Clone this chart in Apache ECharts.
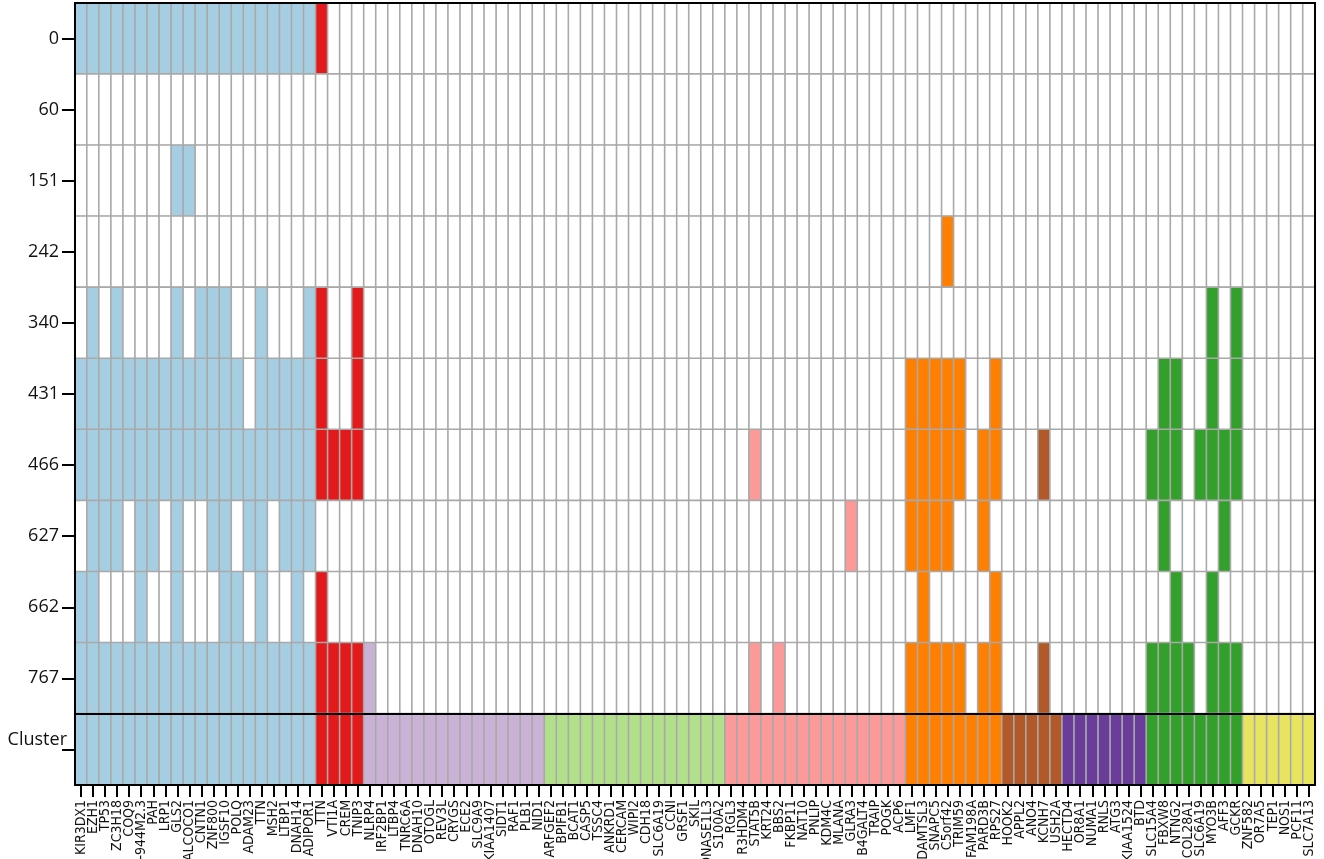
<!DOCTYPE html>
<html>
<head>
<meta charset="utf-8">
<script src="https://cdn.jsdelivr.net/npm/echarts@6/dist/echarts.min.js"></script>
<style>html,body{margin:0;padding:0;background:#fff}#c{width:1324px;height:859px}</style>
</head>
<body>
<div id="c"></div>
<script>
// ---- data ----
const genes = [
  'KIR3DX1','EZH1','TP53','ZC3H18','COQ9','RP5-944M2.3','PAH','LRP1','GLS2','CALCOCO1','CNTN1','ZNF800','IGSF10','POLQ','ADAM23','TTN','MSH2','LTBP1','DNAH14','ADIPOR1',
  'TTN','VTI1A','CREM','TNIP3',
  'NLRP4','IRF2BP1','LTBP4','TNRC6A','DNAH10','OTOGL','REV3L','CRYGS','ECE2','SLC9A9','KIAA1407','SIDT1','RAF1','PLB1','NID1',
  'ARFGEF2','BPIFB1','BCAT1','CASP5','TSSC4','ANKRD1','CERCAM','WIPI2','CDH18','SLC6A19','CCNI','GRSF1','SKIL','DNASE1L3','S100A2',
  'RGL3','R3HDM4','STAT5B','KRT24','BBS2','FKBP11','NAT10','PNLIP','KDM4C','MLANA','GLRA3','B4GALT4','TRAIP','POGK','ACP6',
  'LMF1','ADAMTSL3','SNAPC5','C5orf42','TRIM59','FAM198A','PARD3B','RPS27',
  'HOOK2','APPL2','ANO4','KCNH7','USH2A',
  'HECTD4','OR8A1','NUMA1','RNLS','ATG3','KIAA1524','BTD',
  'SLC15A4','FBXW8','NTNG2','COL28A1','SLC6A19','MYO3B','AFF3','GCKR',
  'ZNF582','OR7A5','TEP1','NOS1','PCF11','SLC7A13'
];
const clusterSizes = [20, 4, 15, 15, 15, 8, 5, 7, 8, 6];
const timepoints = ['0', '60', '151', '242', '340', '431', '466', '627', '662', '767'];
const clusterRowLabel = 'Cluster';
// presence per timepoint, grouped by cluster (blue|red|purple|lgreen|pink|orange|brown|dpurple|green|yellow)
const presence = {
  '0':   '11111111111111111111 1000 000000000000000 000000000000000 000000000000000 00000000 00000 0000000 00000000 000000',
  '60':  '00000000000000000000 0000 000000000000000 000000000000000 000000000000000 00000000 00000 0000000 00000000 000000',
  '151': '00000000110000000000 0000 000000000000000 000000000000000 000000000000000 00000000 00000 0000000 00000000 000000',
  '242': '00000000000000000000 0000 000000000000000 000000000000000 000000000000000 00010000 00000 0000000 00000000 000000',
  '340': '01010000101110010001 1001 000000000000000 000000000000000 000000000000000 00000000 00000 0000000 00000101 000000',
  '431': '11111111111111011111 1001 000000000000000 000000000000000 000000000000000 11111001 00000 0000000 01100101 000000',
  '466': '11111111111111111111 1111 000000000000000 000000000000000 001000000000000 11111011 00010 0000000 11101111 000000',
  '627': '01110110100110110111 0000 000000000000000 000000000000000 000000000010000 11110010 00000 0000000 01000010 000000',
  '662': '11000100100011010010 1000 000000000000000 000000000000000 000000000000000 01000001 00000 0000000 00100100 000000',
  '767': '11111111111111111111 1111 100000000000000 000000000000000 001010000000000 11111011 00010 0000000 11110111 000000'
};

// ---- style ----
const clusterColors = ['#a6cee3', '#e31a1c', '#cab2d6', '#b2df8a', '#fb9a99', '#ff7f00', '#b15928', '#6a3d9a', '#33a02c', '#e8e45f'];

// ---- build ----
const clusterOf = [];
clusterSizes.forEach((n, k) => { for (let i = 0; i < n; i++) clusterOf.push(k + 1); });
const yCats = timepoints.concat([clusterRowLabel]);
const data = [];
timepoints.forEach((tp, r) => {
  const bits = presence[tp].replace(/\s+/g, '');
  for (let c = 0; c < genes.length; c++) {
    data.push([c, r, bits[c] === '1' ? clusterOf[c] : 0]);
  }
});
for (let c = 0; c < genes.length; c++) data.push([c, timepoints.length, clusterOf[c]]);

const pieces = [{ value: 0, color: '#ffffff' }].concat(clusterColors.map((col, i) => ({ value: i + 1, color: col })));

const chart = echarts.init(document.getElementById('c'), null, { renderer: 'canvas' });
const labelFont = "'Liberation Sans Narrow', 'DejaVu Sans Condensed', 'Liberation Sans', sans-serif";
chart.setOption({
  animation: false,
  backgroundColor: '#fff',
  grid: { left: 75, right: 9, top: 3, bottom: 74, containLabel: false, outerBoundsMode: 'none', show: true, z: 10, backgroundColor: 'transparent', borderColor: '#000', borderWidth: 2 },
  xAxis: {
    type: 'category', data: genes, position: 'bottom',
    axisLine: { show: true, lineStyle: { color: '#000', width: 2 } },
    axisTick: { show: true, alignWithLabel: true, interval: 0, length: 12, lineStyle: { color: '#000', width: 2 } },
    axisLabel: { interval: 0, rotate: 90, margin: 15, fontSize: 14, color: '#111', fontFamily: labelFont, hideOverlap: false },
    splitLine: { show: false }
  },
  yAxis: {
    type: 'category', data: yCats, inverse: true,
    axisLine: { show: true, lineStyle: { color: '#000', width: 2 } },
    axisTick: { show: true, alignWithLabel: true, interval: 0, length: 13, lineStyle: { color: '#000', width: 2 } },
    axisLabel: {
      interval: 0, margin: 16, fontSize: 18, color: '#111', fontFamily: "'Open Sans', 'Liberation Sans', sans-serif",
      formatter: v => v === clusterRowLabel ? '{cl|' + v + '}' : v,
      rich: { cl: { fontSize: 18, fontFamily: "'Open Sans', 'Liberation Sans', sans-serif", color: '#111', padding: [0, -8, 20, 0] } }
    },
    splitLine: { show: false }
  },
  visualMap: { type: 'piecewise', show: false, dimension: 2, pieces: pieces },
  series: [{
    type: 'heatmap', data: data,
    itemStyle: { borderColor: '#a9a9a9', borderWidth: 1.6 },
    emphasis: { disabled: true }
  }]
});
const y1 = chart.convertToPixel({ yAxisIndex: 0 }, timepoints[timepoints.length - 1]);
const y2 = chart.convertToPixel({ yAxisIndex: 0 }, clusterRowLabel);
const ySep = (y1 + y2) / 2;
chart.setOption({
  graphic: [{ type: 'line', z: 100, shape: { x1: 75, y1: ySep, x2: 1315, y2: ySep }, style: { stroke: '#000', lineWidth: 2 } }]
});
</script>
</body>
</html>
